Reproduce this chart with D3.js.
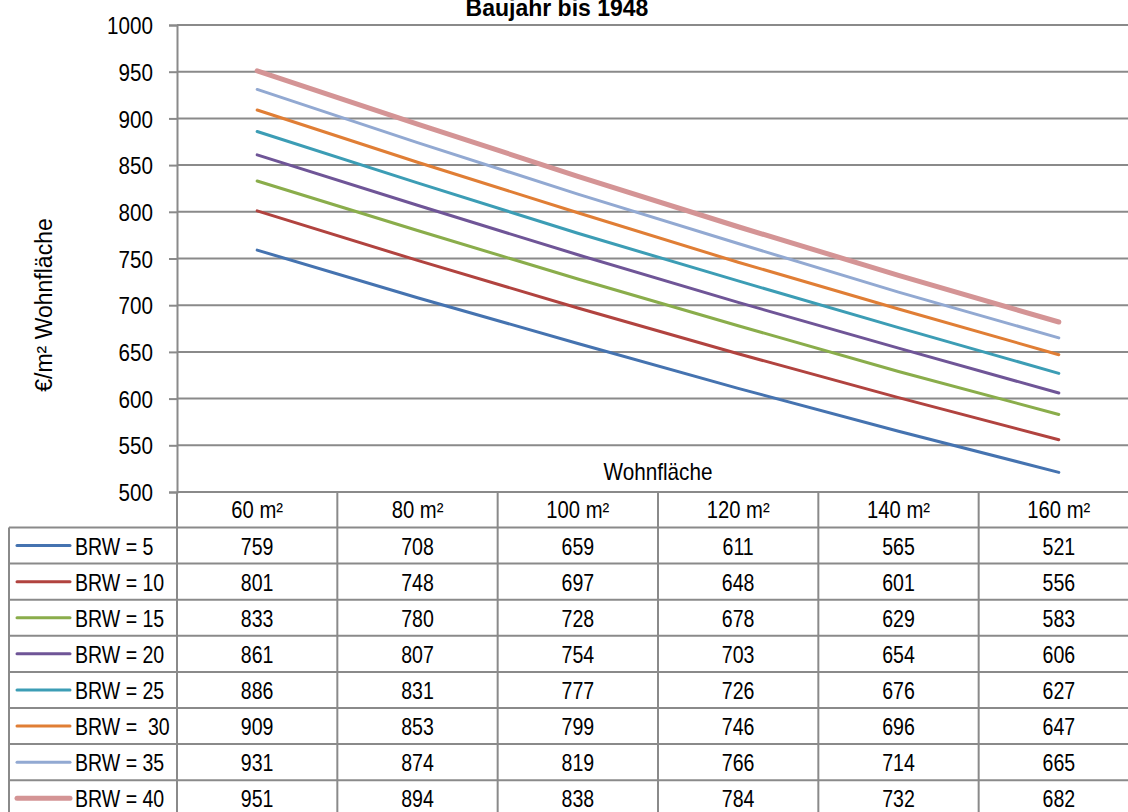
<!DOCTYPE html>
<html>
<head>
<meta charset="utf-8">
<script src="https://cdn.jsdelivr.net/npm/d3@7"></script>
<style>
  html, body { margin: 0; padding: 0; background: #fff; }
  svg { display: block; }
  text { font-family: "Liberation Sans", Arial, sans-serif; fill: #000; }
</style>
</head>
<body>
<svg id="chart" width="1128" height="812"></svg>
<script>
// Wohnfläche categories (x axis / table columns)
const categories = ["60 m²", "80 m²", "100 m²", "120 m²", "140 m²", "160 m²"];

// Series names (BRW = Bodenrichtwert)
const seriesNames = ["BRW = 5", "BRW = 10", "BRW = 15", "BRW = 20", "BRW = 25", "BRW =  30", "BRW = 35", "BRW = 40"];

// €/m² Wohnfläche per series
const brw5  = [759, 708, 659, 611, 565, 521];
const brw10 = [801, 748, 697, 648, 601, 556];
const brw15 = [833, 780, 728, 678, 629, 583];
const brw20 = [861, 807, 754, 703, 654, 606];
const brw25 = [886, 831, 777, 726, 676, 627];
const brw30 = [909, 853, 799, 746, 696, 647];
const brw35 = [931, 874, 819, 766, 714, 665];
const brw40 = [951, 894, 838, 784, 732, 682];

const yTicks = [500, 550, 600, 650, 700, 750, 800, 850, 900, 950, 1000];

const seriesColors = ["#4573B0", "#B1433F", "#8AAD4B", "#6F5597", "#3C9DB5", "#E07E35", "#92A9D2", "#D49495"];
const seriesWidths = [3, 3, 3, 3, 3, 3, 3, 5];

const series = [brw5, brw10, brw15, brw20, brw25, brw30, brw35, brw40].map((values, i) => ({
  name: seriesNames[i], values, color: seriesColors[i], width: seriesWidths[i]
}));

const svg = d3.select("#chart");
const gridColor = "#8a8a8a";

// Condense text horizontally around its anchor point
function squeeze(sel, k) {
  sel.each(function () {
    const t = d3.select(this);
    const tx = +t.attr("x") || 0, ty = +t.attr("y") || 0;
    t.attr("x", 0).attr("y", 0)
     .attr("transform", `translate(${tx},${ty}) scale(${k},1)`);
  });
}

// Plot geometry
const plotLeft = 177, plotRight = 1139, plotTop = 25, plotBottom = 492;
const tableLeft = 9, rowH = 36.1;

const x = d3.scaleBand().domain(categories).range([plotLeft, plotRight]).padding(0);
const y = d3.scaleLinear().domain([500, 1000]).range([plotBottom, plotTop]);
const cx = c => x(c) + x.bandwidth() / 2;

// Title
svg.append("text")
  .attr("x", 557).attr("y", 16)
  .attr("text-anchor", "middle")
  .style("font-weight", "bold").style("font-size", "23px")
  .text("Baujahr bis 1948");

// Horizontal gridlines + y axis
const yAxis = d3.axisLeft(y).tickValues(yTicks).tickSize(8).tickPadding(16).tickFormat(d3.format("d"));
const gy = svg.append("g").attr("transform", `translate(${plotLeft},0)`).call(yAxis);
gy.select(".domain").attr("stroke", gridColor).attr("stroke-width", 2);
gy.selectAll(".tick line").attr("stroke", gridColor).attr("stroke-width", 2);
gy.selectAll(".tick text").style("font-size", "24px").attr("dy", "0.36em")
  .style("font-family", '"Liberation Sans", Arial, sans-serif')
  .call(squeeze, 0.86);

svg.append("g").selectAll("line.grid")
  .data(yTicks).join("line")
  .attr("x1", plotLeft).attr("x2", plotRight)
  .attr("y1", d => y(d)).attr("y2", d => y(d))
  .attr("stroke", gridColor).attr("stroke-width", 2);

// Axis titles
svg.append("text")
  .attr("transform", `translate(52,305) rotate(-90)`)
  .attr("text-anchor", "middle").style("font-size", "23px")
  .text("€/m² Wohnfläche");

svg.append("text")
  .attr("x", (plotLeft + plotRight) / 2).attr("y", 480)
  .attr("text-anchor", "middle").style("font-size", "23px")
  .text("Wohnfläche")
  .call(squeeze, 0.9);

// Series lines
const line = d3.line().x((d, i) => cx(categories[i])).y(d => y(d));
svg.append("g").selectAll("path")
  .data(series).join("path")
  .attr("d", d => line(d.values))
  .attr("fill", "none")
  .attr("stroke", d => d.color)
  .attr("stroke-width", d => d.width)
  .attr("stroke-linecap", "round");

// Data table
const table = svg.append("g");
const headerTop = plotBottom;
const headerBottom = headerTop + 35.5;
const rowTop = i => headerBottom + i * rowH;
const tableBottom = rowTop(series.length);

// column lines (header + body)
const colEdges = categories.map(c => x(c)).concat([plotRight]);
table.selectAll("line.col")
  .data(colEdges).join("line")
  .attr("x1", d => d).attr("x2", d => d)
  .attr("y1", headerTop).attr("y2", tableBottom)
  .attr("stroke", gridColor).attr("stroke-width", 2);

// left border of the legend column
table.append("line")
  .attr("x1", tableLeft).attr("x2", tableLeft)
  .attr("y1", headerBottom).attr("y2", tableBottom)
  .attr("stroke", gridColor).attr("stroke-width", 2);

// row lines
const rowEdges = d3.range(series.length + 1).map(rowTop);
table.selectAll("line.row")
  .data(rowEdges).join("line")
  .attr("x1", tableLeft).attr("x2", plotRight)
  .attr("y1", d => d).attr("y2", d => d)
  .attr("stroke", gridColor).attr("stroke-width", 2);

// header labels
table.selectAll("text.head")
  .data(categories).join("text")
  .attr("x", d => cx(d)).attr("y", headerTop + 26)
  .attr("text-anchor", "middle").style("font-size", "23px")
  .text(d => d)
  .call(squeeze, 0.88);

// legend keys + names
const rows = table.selectAll("g.srow").data(series).join("g")
  .attr("transform", (d, i) => `translate(0,${rowTop(i) + rowH / 2})`);
rows.append("line")
  .attr("x1", 17).attr("x2", 70).attr("y1", 0).attr("y2", 0)
  .attr("stroke", d => d.color)
  .attr("stroke-width", d => d.width)
  .attr("stroke-linecap", "round");
rows.append("text")
  .attr("x", 75).attr("y", 9)
  .style("font-size", "23px").style("white-space", "pre")
  .attr("xml:space", "preserve")
  .text(d => d.name)
  .call(squeeze, 0.85);

// value cells
rows.selectAll("text.val")
  .data(d => d.values).join("text")
  .attr("x", (v, i) => cx(categories[i])).attr("y", 9)
  .attr("text-anchor", "middle").style("font-size", "23px")
  .text(v => v)
  .call(squeeze, 0.85);
</script>
</body>
</html>
